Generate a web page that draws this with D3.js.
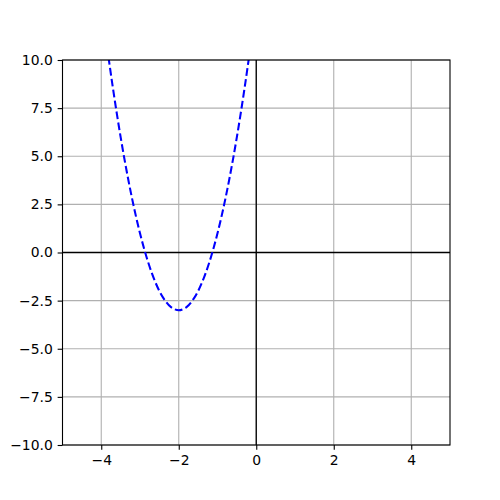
<!DOCTYPE html>
<html>
<head>
<meta charset="utf-8">
<script src="https://cdn.jsdelivr.net/npm/d3@7"></script>
<style>
  body { margin: 0; background: #fff; }
  .tick text { font-family: "DejaVu Sans", sans-serif; font-size: 13.9px; fill: #000; }
</style>
</head>
<body>
<div id="chart"></div>
<script>
// points
var xValues = [-4.0, -3.8, -3.6, -3.4, -3.2, -3.0, -2.8, -2.6, -2.4, -2.2, -2.0,
               -1.8, -1.6, -1.4, -1.2, -1.0, -0.8, -0.6, -0.4, -0.2, 0.0];
var yValues = [13.0, 9.96, 7.24, 4.84, 2.76, 1.0, -0.44, -1.56, -2.36, -2.84, -3.0,
               -2.84, -2.36, -1.56, -0.44, 1.0, 2.76, 4.84, 7.24, 9.96, 13.0];
var xTicks = [-4, -2, 0, 2, 4];
var yTicks = [-10, -7.5, -5, -2.5, 0, 2.5, 5, 7.5, 10];

var width = 500, height = 500;
var margin = { top: 60, right: 50, bottom: 55, left: 62.5 };

var svg = d3.select("#chart").append("svg")
  .attr("width", width)
  .attr("height", height);

var x = d3.scaleLinear().domain([-5, 5]).range([margin.left, width - margin.right]);
var y = d3.scaleLinear().domain([-10, 10]).range([height - margin.bottom, margin.top]);

var minus = function(s) { return s.replace("-", "\u2212"); };

// grid
svg.append("g").selectAll("line").data(xTicks).enter().append("line")
  .attr("x1", d => x(d)).attr("x2", d => x(d))
  .attr("y1", y(-10)).attr("y2", y(10))
  .attr("stroke", "#b0b0b0").attr("stroke-width", 1.1);
svg.append("g").selectAll("line").data(yTicks).enter().append("line")
  .attr("x1", x(-5)).attr("x2", x(5))
  .attr("y1", d => y(d)).attr("y2", d => y(d))
  .attr("stroke", "#b0b0b0").attr("stroke-width", 1.1);

// zero lines
svg.append("line")
  .attr("x1", x(0)).attr("x2", x(0)).attr("y1", y(-10)).attr("y2", y(10))
  .attr("stroke", "#000").attr("stroke-width", 1.3);
svg.append("line")
  .attr("x1", x(-5)).attr("x2", x(5)).attr("y1", y(0)).attr("y2", y(0))
  .attr("stroke", "#000").attr("stroke-width", 1.3);

// curve
svg.append("clipPath").attr("id", "clip").append("rect")
  .attr("x", x(-5)).attr("y", y(10))
  .attr("width", x(5) - x(-5)).attr("height", y(-10) - y(10));

var pts = xValues.map((d, i) => [d, yValues[i]]);
var line = d3.line().x(d => x(d[0])).y(d => y(d[1])).curve(d3.curveCatmullRom);

svg.append("path")
  .datum(pts)
  .attr("clip-path", "url(#clip)")
  .attr("d", line)
  .attr("fill", "none")
  .attr("stroke", "#0000ff")
  .attr("stroke-width", 2.08)
  .attr("stroke-dasharray", "7.7,3.33");

// axes
var xAxis = svg.append("g")
  .attr("transform", "translate(0," + y(-10) + ")")
  .call(d3.axisBottom(x).tickValues(xTicks).tickSize(4.86).tickPadding(4.86)
    .tickFormat(d => minus(d3.format("d")(d))));
var yAxis = svg.append("g")
  .attr("transform", "translate(" + x(-5) + ",0)")
  .call(d3.axisLeft(y).tickValues(yTicks).tickSize(4.86).tickPadding(4.86)
    .tickFormat(d => minus(d3.format(".1f")(d))));

[xAxis, yAxis].forEach(function(g) {
  g.select(".domain").remove();
  g.selectAll(".tick line").attr("stroke", "#000").attr("stroke-width", 1.1);
});

// spines
svg.append("rect")
  .attr("x", x(-5)).attr("y", y(10))
  .attr("width", x(5) - x(-5)).attr("height", y(-10) - y(10))
  .attr("fill", "none").attr("stroke", "#000").attr("stroke-width", 1.1);
</script>
</body>
</html>
